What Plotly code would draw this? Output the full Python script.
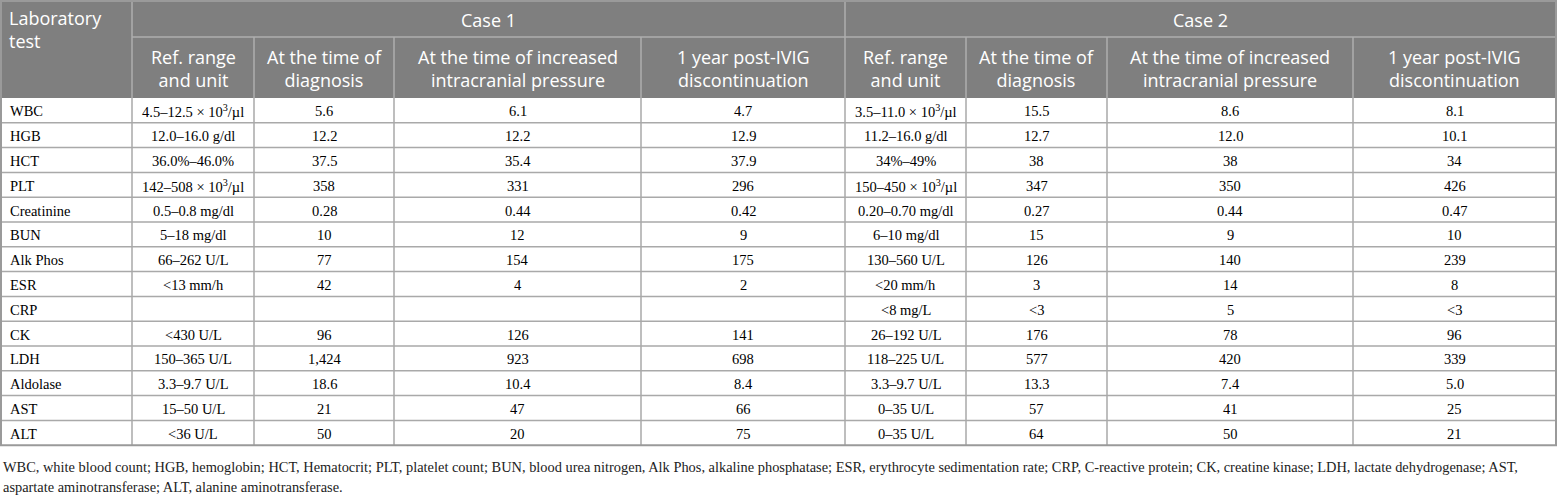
import numpy as np
import plotly.graph_objects as go

# table content
tests = ["WBC", "HGB", "HCT", "PLT", "Creatinine", "BUN", "Alk Phos", "ESR",
         "CRP", "CK", "LDH", "Aldolase", "AST", "ALT"]

case1_ref = ["4.5–12.5 × 10<sup>3</sup>/µl", "12.0–16.0 g/dl", "36.0%–46.0%",
             "142–508 × 10<sup>3</sup>/µl", "0.5–0.8 mg/dl", "5–18 mg/dl", "66–262 U/L",
             "&lt;13 mm/h", "", "&lt;430 U/L", "150–365 U/L", "3.3–9.7 U/L",
             "15–50 U/L", "&lt;36 U/L"]
case1_diag = ["5.6", "12.2", "37.5", "358", "0.28", "10", "77", "42", "", "96",
              "1,424", "18.6", "21", "50"]
case1_icp = ["6.1", "12.2", "35.4", "331", "0.44", "12", "154", "4", "", "126",
             "923", "10.4", "47", "20"]
case1_1yr = ["4.7", "12.9", "37.9", "296", "0.42", "9", "175", "2", "", "141",
             "698", "8.4", "66", "75"]

case2_ref = ["3.5–11.0 × 10<sup>3</sup>/µl", "11.2–16.0 g/dl", "34%–49%",
             "150–450 × 10<sup>3</sup>/µl", "0.20–0.70 mg/dl", "6–10 mg/dl", "130–560 U/L",
             "&lt;20 mm/h", "&lt;8 mg/L", "26–192 U/L", "118–225 U/L", "3.3–9.7 U/L",
             "0–35 U/L", "0–35 U/L"]
case2_diag = ["15.5", "12.7", "38", "347", "0.27", "15", "126", "3", "&lt;3", "176",
              "577", "13.3", "57", "64"]
case2_icp = ["8.6", "12.0", "38", "350", "0.44", "9", "140", "14", "5", "78",
             "420", "7.4", "41", "50"]
case2_1yr = ["8.1", "10.1", "34", "426", "0.47", "10", "239", "8", "&lt;3", "96",
             "339", "5.0", "25", "21"]

group_labels = ["Case 1", "Case 2"]
sub_headers = ["Ref. range<br>and unit", "At the time of<br>diagnosis",
               "At the time of increased<br>intracranial pressure",
               "1 year post-IVIG<br>discontinuation"]
first_header = ["Laboratory", "test"]

footnote_lines = [
    "WBC, white blood count; HGB, hemoglobin; HCT, Hematocrit; PLT, platelet count; "
    "BUN, blood urea nitrogen, Alk Phos, alkaline phosphatase; ESR, erythrocyte "
    "sedimentation rate; CRP, C-reactive protein; CK, creatine kinase; LDH, lactate "
    "dehydrogenase; AST,",
    "aspartate aminotransferase; ALT, alanine aminotransferase.",
]

columns = [tests, case1_ref, case1_diag, case1_icp, case1_1yr,
           case2_ref, case2_diag, case2_icp, case2_1yr]

# geometry in pixels on hidden axes
W, H = 1557, 495
col_widths = [131, 122, 140, 247, 204, 121, 141, 246, 203]
edges = np.concatenate([[1], 1 + np.cumsum(col_widths)])
top, mid, head_bottom = 1, 37, 98
row_h = 24.8
row_edges = head_bottom + row_h * np.arange(len(tests) + 1)
bottom = row_edges[-1]

HEAD_BG = "#7f7f7f"
HEAD_LINE = "#aeaeae"
BODY_LINE = "#a9a9a9"
sans = "Open Sans"
serif = "Liberation Serif"
HEAD_SIZE = 18

fig = go.Figure()
shapes = []
annotations = []

# header background
shapes.append(dict(type="rect", x0=edges[0], x1=edges[-1], y0=top, y1=head_bottom,
                   fillcolor=HEAD_BG, line=dict(width=0), layer="below"))

# header lines
shapes.append(dict(type="line", x0=edges[1], x1=edges[-1], y0=mid, y1=mid,
                   line=dict(color=HEAD_LINE, width=1.5)))
for i, x in enumerate(edges[1:-1], start=1):
    y0 = top if i in (1, 5) else mid
    shapes.append(dict(type="line", x0=x, x1=x, y0=y0, y1=head_bottom,
                       line=dict(color=HEAD_LINE, width=1.5)))

# body grid
for y in row_edges[1:-1]:
    shapes.append(dict(type="line", x0=edges[0], x1=edges[-1], y0=y, y1=y,
                       line=dict(color=BODY_LINE, width=1.5)))
for x in edges[1:-1]:
    shapes.append(dict(type="line", x0=x, x1=x, y0=head_bottom, y1=bottom,
                       line=dict(color=BODY_LINE, width=1.5)))

# outer border
shapes.append(dict(type="rect", x0=edges[0], x1=edges[-1], y0=top, y1=bottom,
                   line=dict(color="#9a9a9a", width=2)))

# header text
for k, word in enumerate(first_header):
    annotations.append(dict(x=edges[0] + 6, y=18 + 23 * k, text=word, xanchor="left",
                            showarrow=False,
                            font=dict(family=sans, size=HEAD_SIZE, color="white")))
for g, label in enumerate(group_labels):
    x0, x1 = edges[1 + 4 * g], edges[5 + 4 * g]
    annotations.append(dict(x=(x0 + x1) / 2, y=(top + mid) / 2 + 1, text=label,
                            showarrow=False,
                            font=dict(family=sans, size=HEAD_SIZE, color="white")))
    for k, sub in enumerate(sub_headers):
        c = 1 + 4 * g + k
        annotations.append(dict(x=(edges[c] + edges[c + 1]) / 2, y=(mid + head_bottom) / 2 + 1,
                                text=sub, showarrow=False, align="center",
                                font=dict(family=sans, size=HEAD_SIZE, color="white")))

# body text
for c, col in enumerate(columns):
    for r, val in enumerate(col):
        if not val:
            continue
        yc = (row_edges[r] + row_edges[r + 1]) / 2 + 1
        if c == 0:
            annotations.append(dict(x=edges[0] + 7, y=yc, text=val, xanchor="left",
                                    showarrow=False,
                                    font=dict(family=serif, size=14.5, color="black")))
        else:
            annotations.append(dict(x=(edges[c] + edges[c + 1]) / 2, y=yc, text=val,
                                    showarrow=False,
                                    font=dict(family=serif, size=14.5, color="black")))

# footnote
for k, line in enumerate(footnote_lines):
    annotations.append(dict(x=1, y=bottom + 22 + 20 * k, text=line, xanchor="left",
                            showarrow=False,
                            font=dict(family=serif, size=14.4, color="#222")))

fig.update_layout(
    width=W, height=H,
    margin=dict(l=0, r=0, t=0, b=0),
    paper_bgcolor="white", plot_bgcolor="white",
    xaxis=dict(range=[0, W], visible=False, fixedrange=True),
    yaxis=dict(range=[H, 0], visible=False, fixedrange=True),
    shapes=shapes, annotations=annotations,
    showlegend=False,
)

# drop the page's default body margin so the figure sits at the window corner
fig.write_html("out.html", config={"displayModeBar": False},
               post_script="document.body.style.margin = '0px';")
